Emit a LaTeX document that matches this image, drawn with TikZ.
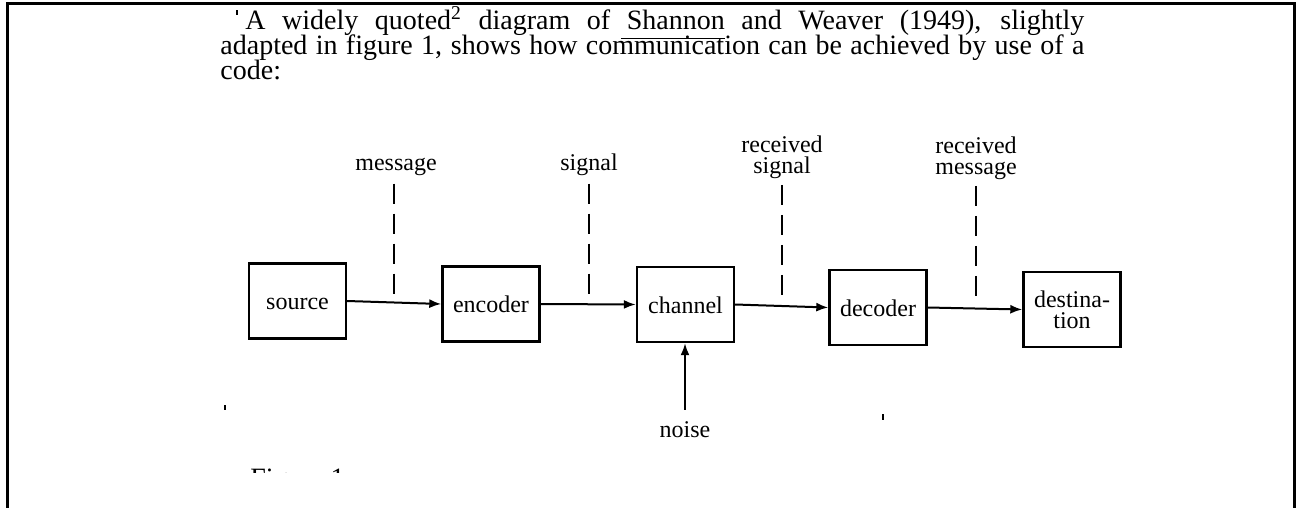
\documentclass[tikz,border=0pt]{standalone}
\usepackage{fontspec}
\setmainfont{Liberation Serif}
\usetikzlibrary{arrows.meta}
\newsavebox\shbox
\newcommand\shanul[1]{\sbox\shbox{#1}\rlap{\kern-3pt\raisebox{-4.5pt}{\rule{\dimexpr\wd\shbox+3pt\relax}{0.55pt}}}\usebox\shbox}
\begin{document}
\begin{tikzpicture}[x=0.5pt,y=-0.5pt,
  blkbase/.style={draw,line width=1.2pt,minimum width=48.5pt,minimum height=37.5pt,inner sep=0pt,font=\fontsize{12}{10.5}\selectfont,align=center},
  blk/.style={blkbase,text height=9.5pt,text depth=1pt},
  lbl/.style={inner sep=0pt,font=\fontsize{12}{10.5}\selectfont,align=center},
  conn/.style={line width=1pt,-{Latex[length=6pt,width=4.5pt]}},
  dsh/.style={line width=1pt,dash pattern=on 10pt off 5pt},
  para/.style={inner sep=0pt,anchor=base west,font=\fontsize{14}{17}\selectfont}]
\useasboundingbox (0,0) rectangle (1300,508);
\draw[line width=1.5pt] (7,508) -- (7,4) -- (1294,4) -- (1294,508);
% paragraph
\node[para] (l1) at (245,30) {\makebox[419.5pt][s]{A widely quoted\textsuperscript{2} diagram of \shanul{Shannon} and Weaver (1949), slightly}};
\node[para] (l2) at (220,55) {\makebox[432pt][s]{adapted in figure 1, shows how communication can be achieved by use of a}};
\node[para] (l3) at (220,80) {code:};
\fill (236,10) rectangle (238,15);
% blocks
\node[blk] (src) at (297.5,301) {source};
\node[blk] (enc) at (491,304) {encoder};
\node[blk] (chn) at (685.5,304.5) {channel};
\node[blk] (dec) at (878,307.5) {decoder};
\node[blkbase] (dst) at (1072,309.5) {destina-\\tion};
\draw[conn] (src.east) -- (enc.west);
\draw[conn] (enc.east) -- (chn.west);
\draw[conn] (chn.east) -- (dec.west);
\draw[conn] (dec.east) -- (dst.west);
% labels
\node[lbl,anchor=base] (m) at (396,170) {message};
\coordinate (me) at (394,295);
\draw[dsh,shorten <=4pt] (m.south -| me) -- (me);
\node[lbl,anchor=base] (s) at (589,170) {signal};
\coordinate (se) at (589,297);
\draw[dsh,shorten <=4pt] (s.south -| se) -- (se);
\node[lbl] (rs) at (782,157) {received\\signal};
\coordinate (rse) at (782,299);
\draw[dsh,shorten <=3pt] (rs.south -| rse) -- (rse);
\node[lbl] (rm) at (976,158) {received\\message};
\coordinate (rme) at (976,302);
\draw[dsh,shorten <=3pt] (rm.south -| rme) -- (rme);
% noise
\node[lbl,anchor=base] (n) at (685,437) {noise};
\draw[conn,shorten <=5.5pt] (n.north) -- (n.north |- chn.south);
% specks and clipped caption
\fill (224,405) rectangle (226,410);
\fill (882,414) rectangle (884,420);
\begin{scope}
\clip (0,440) rectangle (1300,472);
\node[para] (fig) at (250,487) {Figure 1};
\end{scope}
\end{tikzpicture}
\end{document}
